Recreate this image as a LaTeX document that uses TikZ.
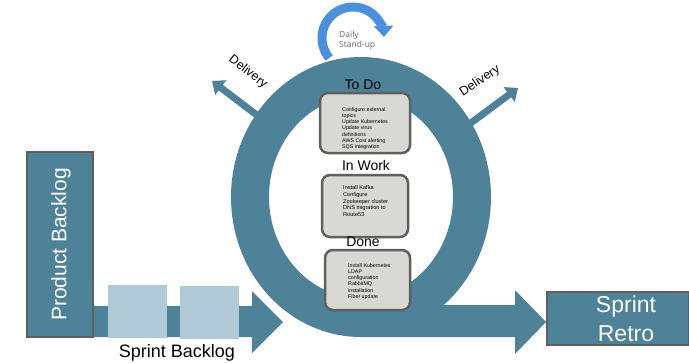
\documentclass[tikz,border=0pt]{standalone}
\usepackage{fontspec}
\setmainfont{Liberation Sans}
\newfontfamily\standupfont{Open Sans}
\usetikzlibrary{arrows.meta}
\definecolor{ringblue}{RGB}{78,130,153}
\definecolor{lightblue}{RGB}{177,202,215}
\definecolor{boxgray}{RGB}{216,216,212}
\definecolor{edgegray}{RGB}{95,95,95}
\definecolor{standblue}{RGB}{74,144,220}
\definecolor{standtext}{RGB}{105,105,105}
\tikzset{
  bigbox/.style={draw=edgegray, line width=2pt, fill=ringblue, inner sep=0pt},
  sprintitem/.style={fill=lightblue, inner sep=0pt, minimum width=59pt, minimum height=53pt},
  taskbox/.style={draw=edgegray, line width=2.5pt, fill=boxgray, rounded corners=8pt, inner sep=0pt},
  tasktext/.style={anchor=north west, inner sep=0pt, align=left, font=\fontsize{5.3}{6.3}\selectfont},
  colhead/.style={anchor=base, inner sep=0pt, font=\fontsize{14}{16}\selectfont},
  delivery/.style={ringblue, line width=7pt, -{Triangle[length=11pt,width=18pt]}},
  deliverytext/.style={inner sep=0pt, font=\fontsize{12.5}{15}\selectfont},
}
\begin{document}
\begin{tikzpicture}[x=1pt,y=-1pt]
\useasboundingbox (0,0) rectangle (689,362);
\clip (0,0) rectangle (689,362);

% daily stand-up circular arrow
\coordinate (sc) at (353,38);
\draw[standblue, line width=9pt, -{Triangle[length=11pt,width=19pt]}]
  (sc) ++(140:31) arc[start angle=140, end angle=358, radius=31];
\node[anchor=north west, inner sep=0pt, align=left, text=standtext,
  font=\standupfont\fontsize{8.5}{10}\selectfont] (standup) at (339,31) {Daily\\Stand-up};

% delivery arrows
\coordinate (dl0) at (266,122);
\coordinate (dl1) at (212,81);
\coordinate (dr0) at (456,134);
\coordinate (dr1) at (518,88);
\draw[delivery] (dl0) -- (dl1);
\draw[delivery] (dr0) -- (dr1);
\node[deliverytext, rotate=-38] (deliveryL) at (248,72) {Delivery};
\node[deliverytext, rotate=33] (deliveryR) at (480,81) {Delivery};

% sprint ring
\fill[ringblue, even odd rule] (361,197) ellipse [x radius=130, y radius=140]
  (361,197) ellipse [x radius=92, y radius=101];
% tail arrow to retro
\fill[ringblue] (361,305) -- (515,305) -- (515,290) -- (546,322) -- (515,354)
  -- (515,337) -- (361,337) -- cycle;

% sprint backlog arrow
\fill[ringblue] (80,306) -- (252,306) -- (252,291) -- (283,322) -- (252,353)
  -- (252,337) -- (80,337) -- cycle;

% product backlog
\node[bigbox, minimum width=66pt, minimum height=185pt] (pb) at (60,244.5) {};
\node[rotate=90, text=white, inner sep=0pt, font=\fontsize{21}{24}\selectfont] (pbt) at (61,244.5) {Product Backlog};

% sprint backlog items
\node[sprintitem] (sb1) at (137.5,311) {};
\node[sprintitem] (sb2) at (209.5,312) {};
\node[anchor=base, inner sep=0pt, font=\fontsize{18}{20}\selectfont] (sbt) at (177,357) {Sprint Backlog};

% sprint retro
\node[bigbox, minimum width=142pt, minimum height=53pt] (retro) at (618,318.5) {};
\node[text=white, align=center, inner sep=0pt, font=\fontsize{23}{29}\selectfont] (retrot) at (626,319) {Sprint\\Retro};

% task boxes
\node[colhead] (todoh) at (363,89) {To Do};
\node[taskbox, minimum width=90pt, minimum height=60pt] (todo) at (365,123) {};
\node[tasktext] (todot) at (342,107) {Configure external\\topics\\Update Kubernetes\\Update virus\\definitions\\AWS Cost alerting\\SQS integration};

\node[colhead] (workh) at (366,170) {In Work};
\node[taskbox, minimum width=86pt, minimum height=62pt] (work) at (365,206) {};
\node[tasktext, font=\fontsize{5.6}{6.9}\selectfont] (workt) at (343,185) {Install Kafka\\Configure\\Zookeeper cluster\\DNS migration to\\Route53};

\node[colhead] (doneh) at (363,246) {Done};
\node[taskbox, minimum width=85pt, minimum height=60pt] (done) at (367.5,280) {};
\node[tasktext] (donet) at (348,263) {Install Kubernetes\\LDAP\\configuration\\RabbitMQ\\installation\\Fiber update};
\end{tikzpicture}
\end{document}
